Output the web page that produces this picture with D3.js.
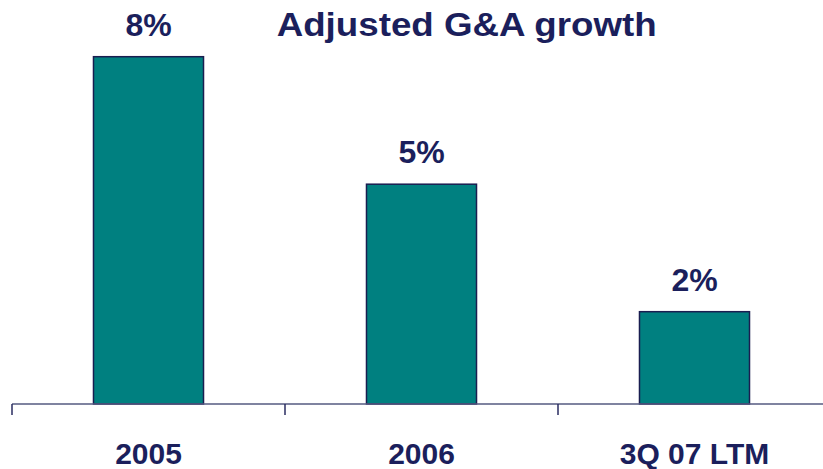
<!DOCTYPE html>
<html>
<head>
<meta charset="utf-8">
<script src="https://cdn.jsdelivr.net/npm/d3@7"></script>
<style>
  html, body { margin: 0; padding: 0; background: #ffffff; }
  svg { display: block; }
  text { font-family: "Liberation Sans", Arial, Helvetica, sans-serif; font-weight: bold; fill: #1b1f5c; }
</style>
</head>
<body>
<svg id="chart" width="823" height="469"></svg>
<script>
// Adjusted G&A growth, percent per period
const categories = ["2005", "2006", "3Q 07 LTM"];
const growth = [8, 5, 2];
const valueLabels = ["8%", "5%", "2%"];
const title = "Adjusted G&A growth";

const W = 823, H = 469;
const svg = d3.select("#chart");

const baseY = 404;

const x = d3.scaleBand()
  .domain(categories)
  .range([12, 831])
  .paddingInner(0.597)
  .paddingOuter(0.2985);

const y = d3.scaleLinear()
  .domain([-0.172, 8])
  .range([baseY, 56.7]);

// bars
svg.append("g").selectAll("rect")
  .data(categories)
  .join("rect")
  .attr("x", d => x(d))
  .attr("y", (d, i) => y(growth[i]))
  .attr("width", x.bandwidth())
  .attr("height", (d, i) => baseY - y(growth[i]))
  .attr("fill", "#008080")
  .attr("stroke", "#1a1d50")
  .attr("stroke-width", 1.5);

// category axis: baseline with ticks on band boundaries
const step = x.step();
const axisG = svg.append("g");
axisG.append("line")
  .attr("x1", 12).attr("x2", W)
  .attr("y1", baseY).attr("y2", baseY)
  .attr("stroke", "#555a80").attr("stroke-width", 1.5);
const boundaries = d3.range(categories.length + 1).map(i => 12 + i * step);
axisG.selectAll("line.tick")
  .data(boundaries)
  .join("line")
  .attr("class", "tick")
  .attr("x1", d => d).attr("x2", d => d)
  .attr("y1", baseY).attr("y2", baseY + 11)
  .attr("stroke", "#2a2d60").attr("stroke-width", 1.5);

axisG.selectAll("text")
  .data(categories)
  .join("text")
  .attr("x", d => x(d) + x.bandwidth() / 2)
  .attr("y", 464)
  .attr("text-anchor", "middle")
  .attr("font-size", 30)
  .text(d => d);

// value labels
svg.append("g").selectAll("text")
  .data(categories)
  .join("text")
  .attr("x", d => x(d) + x.bandwidth() / 2)
  .attr("y", (d, i) => y(growth[i]) - 21)
  .attr("text-anchor", "middle")
  .attr("font-size", 32)
  .text((d, i) => valueLabels[i]);

// title
svg.append("text")
  .attr("x", 466.7)
  .attr("y", 36)
  .attr("text-anchor", "middle")
  .attr("font-size", 34)
  .attr("textLength", 380)
  .attr("lengthAdjust", "spacingAndGlyphs")
  .text(title);
</script>
</body>
</html>
